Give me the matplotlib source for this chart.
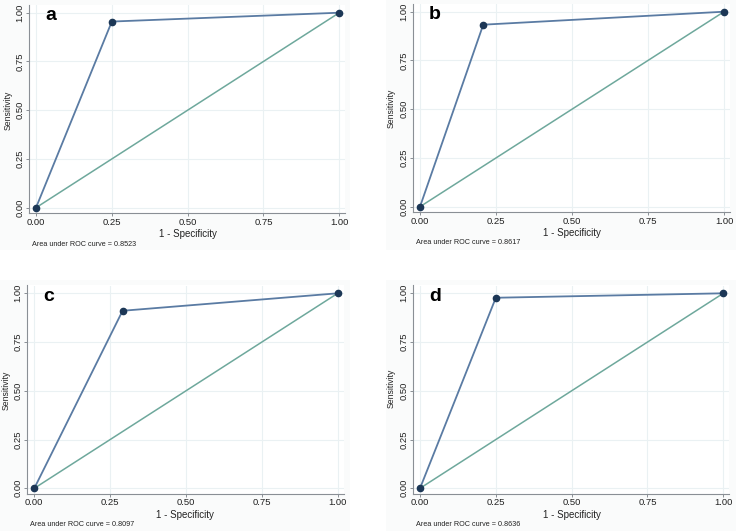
import matplotlib
matplotlib.use("Agg")
import matplotlib.pyplot as plt
from matplotlib.patches import Rectangle

plt.rcParams['font.family'] = ['Liberation Sans', 'DejaVu Sans']

panel_labels = ["a", "b", "c", "d"]
fpr_points = [0.25, 0.208, 0.291, 0.25]
sens_points = [0.9546, 0.9334, 0.9104, 0.9772]
auc_values = ["0.8523", "0.8617", "0.8097", "0.8636"]
ticks = [0.0, 0.25, 0.5, 0.75, 1.0]
tick_labels = ["0.00", "0.25", "0.50", "0.75", "1.00"]

W, H = 736, 531
fig = plt.figure(figsize=(W / 100, H / 100), dpi=100)
fig.patch.set_facecolor("white")

# pixel geometry: (x at 0, x at 1, y at 1, y at 0) measured from top-left
geom = [
    (36.0, 339.3, 12.7, 207.7),
    (420.0, 724.0, 11.7, 206.7),
    (34.3, 337.7, 293.3, 488.3),
    (420.0, 723.3, 293.3, 488.3),
]
# panel backgrounds (x0, y0, x1, y1) in pixels from top-left
bgs = [(0, 0, 350, 250), (386, 0, 736, 250), (0, 280, 350, 531), (386, 280, 736, 531)]
ylab_x = [8.5, 391.5, 6, 391.5]
ylab_y = [110, 108, 390, 388]
xlab_x = [188, 572, 185, 572]
xlab_y = [234, 233, 515, 515]
txt_x = [32, 416, 30, 416]
txt_y = [245, 243, 525, 525]

XL = (-0.023, 1.02)
YL = (-0.027, 1.04)

roc_col = "#5a7ba3"
mk_col = "#1c3756"
diag_col = "#6ea89c"
grid_col = "#eaf1f3"
spine_col = "#8a8f95"

for i in range(4):
    bx0, by0, bx1, by1 = bgs[i]
    fig.patches.append(Rectangle((bx0 / W, 1 - by1 / H), (bx1 - bx0) / W, (by1 - by0) / H,
                                 transform=fig.transFigure, facecolor="#fafbfb",
                                 edgecolor="none", zorder=-10))
    x0, x1, y1, y0 = geom[i]
    sx = x1 - x0
    sy = y0 - y1
    left = x0 + XL[0] * sx
    right = x0 + XL[1] * sx
    bottom = y0 - YL[0] * sy
    top = y0 - YL[1] * sy
    ax = fig.add_axes([left / W, 1 - bottom / H, (right - left) / W, (bottom - top) / H])
    ax.set_facecolor("white")
    ax.set_xlim(*XL)
    ax.set_ylim(*YL)
    ax.set_xticks(ticks)
    ax.set_xticklabels(tick_labels, fontsize=6.8)
    ax.set_yticks(ticks)
    ax.set_yticklabels(tick_labels, fontsize=6.8, rotation=90, va="center")
    ax.grid(True, color=grid_col, linewidth=0.8)
    ax.set_axisbelow(True)
    for s in ["top", "right"]:
        ax.spines[s].set_visible(False)
    for s in ["left", "bottom"]:
        ax.spines[s].set_color(spine_col)
        ax.spines[s].set_linewidth(0.8)
    ax.tick_params(axis="both", length=2.5, width=0.7, color=spine_col, pad=1, labelcolor="#222222")

    ax.plot([0, 1], [0, 1], color=diag_col, linewidth=1.1, zorder=2)
    ax.plot([0, fpr_points[i], 1], [0, sens_points[i], 1], color=roc_col, linewidth=1.3,
            marker="o", markersize=4.5, markerfacecolor=mk_col, markeredgecolor=mk_col, zorder=3)

    ax.set_xlabel("1 - Specificity", fontsize=7, color="#222222")
    ax.xaxis.set_label_coords(xlab_x[i] / W, 1 - xlab_y[i] / H, transform=fig.transFigure)
    ax.xaxis.label.set_va("center")
    ax.set_ylabel("Sensitivity", fontsize=6.2, color="#222222")
    ax.yaxis.set_label_coords(ylab_x[i] / W, 1 - ylab_y[i] / H, transform=fig.transFigure)
    ax.yaxis.label.set_va("center")
    ax.text(0.03, 0.985, panel_labels[i], fontsize=14, fontweight="bold",
            va="center", ha="left", color="black")

    fig.text(txt_x[i] / W, 1 - txt_y[i] / H, "Area under ROC curve = " + auc_values[i],
             fontsize=5.2, va="center", ha="left", color="#222222")

fig.savefig("out.png", dpi=100)
